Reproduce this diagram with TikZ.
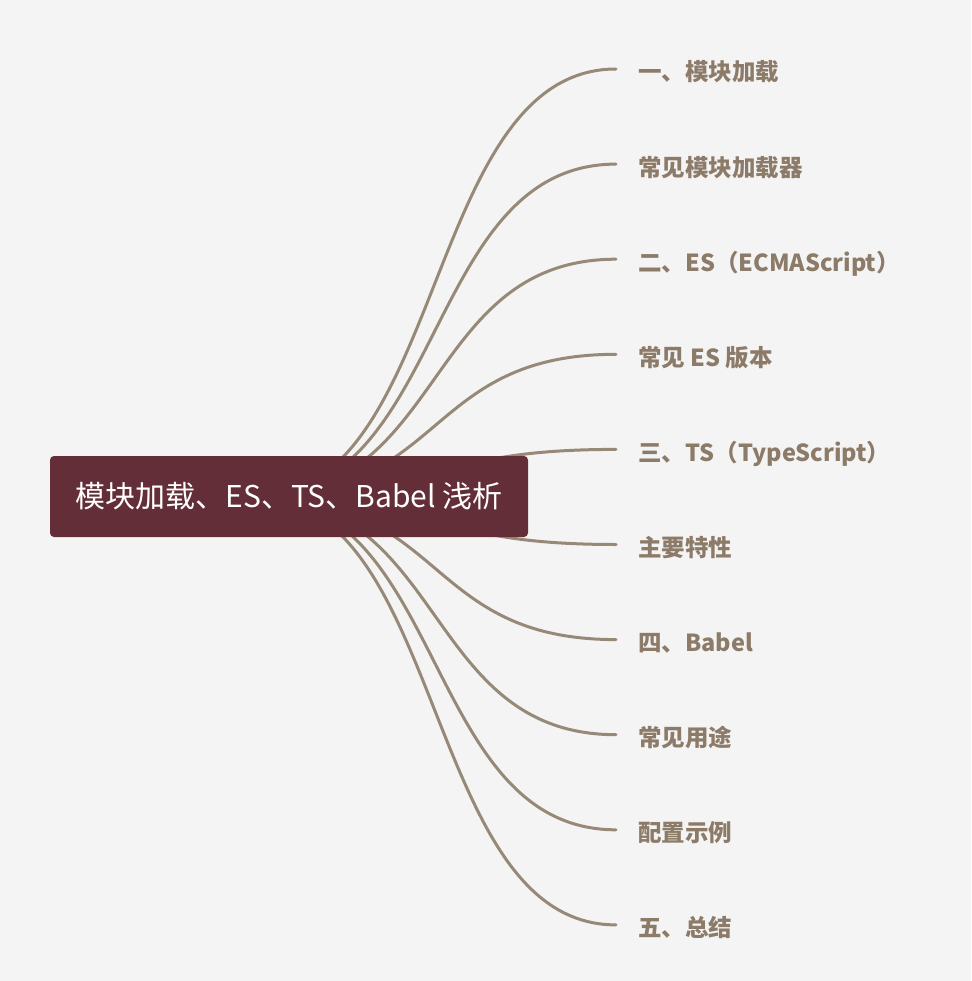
\documentclass[tikz,border=0pt]{standalone}
\usepackage{fontspec}
\setmainfont{Noto Sans CJK SC}
\newfontfamily\cjk{Noto Sans CJK SC}
\definecolor{bgc}{HTML}{F4F4F4}
\definecolor{rootc}{HTML}{632E37}
\definecolor{linec}{HTML}{978977}
\definecolor{labc}{HTML}{8C7B68}
\tikzset{
  branch/.style={draw=linec, line width=3pt, line cap=round},
  rootbox/.style={fill=rootc, rounded corners=4pt, minimum width=478pt, minimum height=81pt, inner sep=0pt, text=white, font=\cjk\fontsize{30}{36}\selectfont},
  lab/.style={anchor=base west, inner sep=0pt, text=labc, font=\cjk\bfseries\fontsize{23.5}{28}\selectfont}
}
\begin{document}
\begin{tikzpicture}[x=1pt,y=-1pt]
\fill[bgc] (0,0) rectangle (971,981);
\useasboundingbox (0,0) rectangle (971,981);
\coordinate (src) at (254,497);
\foreach \i/\t in {0/{一、模块加载},1/{常见模块加载器},2/{二、ES（ECMAScript）},3/{常见 ES 版本},4/{三、TS（TypeScript）},5/{主要特性},6/{四、Babel},7/{常见用途},8/{配置示例},9/{五、总结}}{
  \coordinate (e\i) at (616,{69+95.1*\i});
  \node[lab] (l\i) at (638,{81+95.1*\i}) {\t};
  \draw[branch] (src) .. controls ([xshift=193pt]src) and ([xshift=-193pt]e\i) .. (e\i);
}
\node[rootbox] (root) at (289,496.5) {模块加载、ES、TS、Babel 浅析};
\end{tikzpicture}
\end{document}
